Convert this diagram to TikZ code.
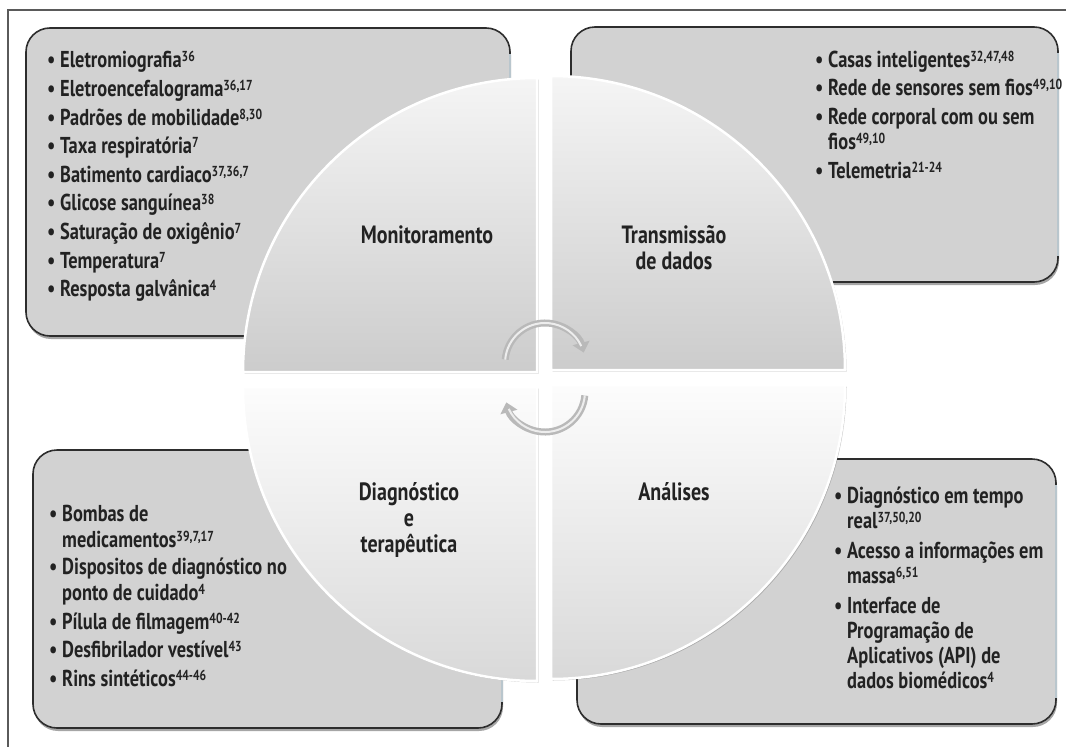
\documentclass[tikz,border=0pt]{standalone}
\usepackage{fontspec}
\setmainfont{PT Sans}[FakeStretch=0.8]
\usetikzlibrary{arrows.meta,shadows}
\definecolor{boxfill}{RGB}{210,210,210}
\definecolor{boxline}{RGB}{45,45,45}
\definecolor{txt}{RGB}{34,34,34}
\definecolor{boxedge}{RGB}{185,198,205}
\definecolor{framec}{RGB}{90,90,90}
\newcommand{\sps}[1]{\raisebox{6pt}{\fontsize{14.5}{14.5}\selectfont #1}}
\newcommand{\bul}{\makebox[13pt][l]{\textbullet}}
\newcommand{\lbl}[1]{\parbox[t]{220pt}{\fontsize{25}{26}\selectfont\bfseries\centering #1}}
\tikzset{
  listbox/.style={draw=boxline, line width=1.6pt, fill=boxfill, rounded corners=24pt,
    drop shadow={shadow xshift=1pt, shadow yshift=-3pt, opacity=0.35, fill=black}},
  boxright/.style={draw=boxedge, line width=1.6pt},
  quadtop/.style={top color=gray!8, bottom color=gray!40, draw=white, line width=2.5pt,
    drop shadow={shadow xshift=1.5pt, shadow yshift=-1.5pt, opacity=0.3, fill=black!70}},
  quadbot/.style={top color=gray!2, bottom color=gray!30, draw=white, line width=2.5pt,
    drop shadow={shadow xshift=1.5pt, shadow yshift=-1.5pt, opacity=0.3, fill=black!70}},
  li/.style={anchor=base west, inner sep=0pt, text=txt, font=\fontsize{23}{25}\selectfont\bfseries},
  quadlabel/.style={anchor=base, inner sep=0pt, text=txt},
  cyc/.style={line width=7pt, draw=gray!55, -{Triangle[width=17pt,length=10pt]}},
  cychl/.style={line width=2pt, draw=white, opacity=0.75},
}
\begin{document}
\begin{tikzpicture}[x=1pt,y=-1pt]
\useasboundingbox (0,0) rectangle (1066,747);
% frame
\draw[framec, line width=1.2pt] (1066,10) -- (8,10) -- (8,747);
% list boxes
\path[listbox] (26,28) rectangle (510,336);
\draw[boxright] (510,54) -- (510,310);
\path[listbox] (571,27) rectangle (1058,282);
\draw[boxright] (1058,53) -- (1058,256);
\path[listbox] (33,450) rectangle (502,728);
\draw[boxright] (502,476) -- (502,702);
\path[listbox] (577,459) rectangle (1056,724);
\draw[boxright] (1056,485) -- (1056,698);
% quadrants
\path[quadtop] (537,372) -- (243,372) arc[start angle=180, end angle=270, radius=294] -- cycle;
\path[quadtop] (551,370) -- (551,76) arc[start angle=270, end angle=360, radius=294] -- cycle;
\path[quadbot] (537,387) -- (243,387) arc[start angle=180, end angle=90, radius=294] -- cycle;
\path[quadbot] (551,385) -- (845,385) arc[start angle=0, end angle=90, radius=294] -- cycle;
% top-left list
\node[li] (tl1) at (47,67) {\bul Eletromiografia\sps{36}};
\node[li] (tl2) at (47,96) {\bul Eletroencefalograma\sps{36,17}};
\node[li] (tl3) at (47,125) {\bul Padrões de mobilidade\sps{8,30}};
\node[li] (tl4) at (47,153) {\bul Taxa respiratória\sps{7}};
\node[li] (tl5) at (47,182) {\bul Batimento cardiaco\sps{37,36,7}};
\node[li] (tl6) at (47,210) {\bul Glicose sanguínea\sps{38}};
\node[li] (tl7) at (47,239) {\bul Saturação de oxigênio\sps{7}};
\node[li] (tl8) at (47,268) {\bul Temperatura\sps{7}};
\node[li] (tl9) at (47,296) {\bul Resposta galvânica\sps{4}};
% top-right list
\node[li] (tr1) at (815,67) {\bul Casas inteligentes\sps{32,47,48}};
\node[li] (tr2) at (815,95) {\bul Rede de sensores sem fios\sps{49,10}};
\node[li] (tr3) at (815,124) {\bul Rede corporal com ou sem};
\node[li] (tr3b) at (828,149) {fios\sps{49,10}};
\node[li] (tr4) at (815,178) {\bul Telemetria\sps{21-24}};
% bottom-left list
\node[li] (bl1) at (49,521) {\bul Bombas de};
\node[li] (bl1b) at (62,547) {medicamentos\sps{39,7,17}};
\node[li] (bl2) at (49,574) {\bul Dispositos de diagnóstico no};
\node[li] (bl2b) at (62,600) {ponto de cuidado\sps{4}};
\node[li] (bl3) at (49,629) {\bul Pílula de filmagem\sps{40-42}};
\node[li] (bl4) at (49,657) {\bul Desfibrilador vestível\sps{43}};
\node[li] (bl5) at (49,686) {\bul Rins sintéticos\sps{44-46}};
% bottom-right list
\node[li] (br1) at (834,503) {\bul Diagnóstico em tempo};
\node[li] (br1b) at (847,528) {real\sps{37,50,20}};
\node[li] (br2) at (834,558) {\bul Acesso a informações em};
\node[li] (br2b) at (847,583) {massa\sps{6,51}};
\node[li] (br3) at (834,613) {\bul Interface de};
\node[li] (br3b) at (847,638) {Programação de};
\node[li] (br3c) at (847,663) {Aplicativos (API) de};
\node[li] (br3d) at (847,688) {dados biomédicos\sps{4}};
% quadrant labels
\node[quadlabel] (mon) at (427,243) {\lbl{Monitoramento}};
\node[quadlabel] (tra) at (674,243) {\lbl{Transmissão\\de dados}};
\node[quadlabel] (dia) at (409,500) {\lbl{Diagnóstico\\e\\terapêutica}};
\node[quadlabel] (ana) at (674,500) {\lbl{Análises}};
% cycle arrows
\coordinate (c1) at (505.2,359.5);
\coordinate (c2) at (584.8,395.5);
\draw[cyc] (c1) arc[start angle=185, end angle=345, radius=40];
\draw[cychl] (c1) arc[start angle=185, end angle=335, radius=40];
\draw[cyc] (c2) arc[start angle=5, end angle=165, radius=40];
\draw[cychl] (c2) arc[start angle=5, end angle=155, radius=40];
\end{tikzpicture}
\end{document}
